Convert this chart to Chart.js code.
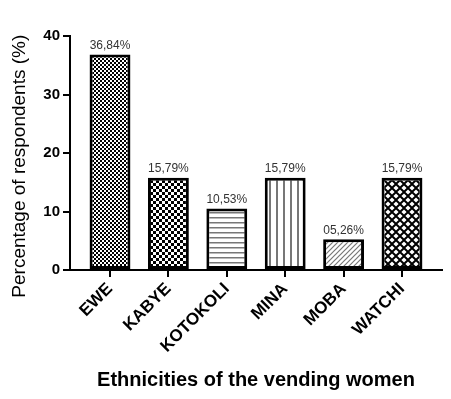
<!DOCTYPE html>
<html>
<head>
<meta charset="utf-8">
<script src="https://cdn.jsdelivr.net/npm/chart.js@4"></script>
<style>
  html, body { margin: 0; padding: 0; background: #fff; }
  #wrap { width: 451px; height: 399px; }
</style>
</head>
<body>
<div id="wrap"><canvas id="barChart" width="451" height="399"></canvas></div>
<script>
const categories = ['EWE', 'KABYE', 'KOTOKOLI', 'MINA', 'MOBA', 'WATCHI'];
const percentages = [36.84, 15.79, 10.53, 15.79, 5.26, 15.79];
const valueLabels = ['36,84%', '15,79%', '10,53%', '15,79%', '05,26%', '15,79%'];
const yTicks = [0, 10, 20, 30, 40];

const FONT = '"Liberation Sans", Arial, sans-serif';

function makePattern(w, h, draw) {
    const c = document.createElement('canvas');
    c.width = w;
    c.height = h;
    const g = c.getContext('2d');
    g.fillStyle = '#fff';
    g.fillRect(0, 0, w, h);
    draw(g, w, h);
    return g.createPattern(c, 'repeat');
}

// one fill per bar, as in the original figure
const fineChecker = makePattern(4, 4, function(g) {
    g.fillStyle = '#000';
    g.fillRect(0, 0, 2, 2);
    g.fillRect(2, 2, 2, 2);
});
const bigChecker = makePattern(6, 6, function(g) {
    g.fillStyle = '#000';
    g.fillRect(0, 0, 3, 3);
    g.fillRect(3, 3, 3, 3);
});
const horizLines = makePattern(5, 5, function(g) {
    g.fillStyle = '#777';
    g.fillRect(0, 2, 5, 1.5);
});
const vertLines = makePattern(7, 7, function(g) {
    g.fillStyle = '#777';
    g.fillRect(3, 0, 2, 7);
});
const diagLines = makePattern(5, 5, function(g) {
    g.strokeStyle = '#777';
    g.lineWidth = 1.2;
    g.beginPath();
    g.moveTo(-1, 6); g.lineTo(6, -1);
    g.moveTo(-1, 1); g.lineTo(1, -1);
    g.moveTo(4, 6); g.lineTo(6, 4);
    g.stroke();
});
const diamonds = makePattern(8, 8, function(g, w, h) {
    g.fillStyle = '#000';
    g.fillRect(0, 0, w, h);
    g.fillStyle = '#fff';
    const pts = [[4, 4], [0, 0], [8, 0], [0, 8], [8, 8]];
    pts.forEach(function(p) {
        g.beginPath();
        g.moveTo(p[0], p[1] - 2.6);
        g.lineTo(p[0] + 2.6, p[1]);
        g.lineTo(p[0], p[1] + 2.6);
        g.lineTo(p[0] - 2.6, p[1]);
        g.closePath();
        g.fill();
    });
});
const fills = [fineChecker, bigChecker, horizLines, vertLines, diagLines, diamonds];

const valueLabelPlugin = {
    id: 'valueLabels',
    afterDatasetsDraw(chart) {
        const ctx = chart.ctx;
        const meta = chart.getDatasetMeta(0);
        ctx.save();
        ctx.font = '12px ' + FONT;
        ctx.fillStyle = '#333';
        ctx.textAlign = 'center';
        ctx.textBaseline = 'bottom';
        meta.data.forEach(function(bar, i) {
            ctx.fillText(valueLabels[i], bar.x, bar.y - 3);
        });
        ctx.restore();
    }
};

// small tick marks under each category on the x axis
const xTickMarks = {
    id: 'xTickMarks',
    afterDraw(chart) {
        const ctx = chart.ctx;
        const xs = chart.scales.x;
        const y0 = chart.chartArea.bottom;
        ctx.save();
        ctx.strokeStyle = '#000';
        ctx.lineWidth = 2;
        ctx.beginPath();
        categories.forEach(function(c, i) {
            const px = Math.round(xs.getPixelForValue(i));
            ctx.moveTo(px, y0);
            ctx.lineTo(px, y0 + 7);
        });
        ctx.stroke();
        ctx.restore();
    }
};

new Chart(document.getElementById('barChart').getContext('2d'), {
    type: 'bar',
    data: {
        datasets: [{
            data: percentages.map(function(v, i) { return { x: i, y: v }; }),
            backgroundColor: fills,
            borderColor: '#000',
            borderWidth: 3,
            borderSkipped: false,
            categoryPercentage: 1,
            barPercentage: 0.7
        }]
    },
    options: {
        responsive: false,
        animation: false,
        layout: { padding: { top: 36, right: 9, left: 0, bottom: 0 } },
        plugins: {
            legend: { display: false },
            tooltip: { enabled: false }
        },
        scales: {
            x: {
                type: 'linear',
                offset: false,
                min: -0.685,
                max: 5.685,
                afterBuildTicks: function(scale) {
                    scale.ticks = categories.map(function(c, i) { return { value: i }; });
                },
                afterFit: function(scale) { scale.height = 129; },
                grid: {
                    offset: false,
                    drawOnChartArea: false,
                    color: '#000',
                    lineWidth: 2,
                    tickLength: 7
                },
                border: { color: '#000', width: 2 },
                ticks: {
                    autoSkip: false,
                    minRotation: 45,
                    maxRotation: 45,
                    padding: 2,
                    color: '#000',
                    font: { family: FONT, size: 17, weight: 'bold' },
                    callback: function(value) { return categories[value]; }
                },
                title: {
                    display: true,
                    text: 'Ethnicities of the vending women',
                    color: '#000',
                    font: { family: FONT, size: 20, weight: 'bold' },
                    padding: { top: 0, bottom: 7 }
                }
            },
            y: {
                min: 0,
                max: 40,
                afterBuildTicks: function(scale) {
                    scale.ticks = yTicks.map(function(v) { return { value: v }; });
                },
                afterFit: function(scale) { scale.width = 70; },
                grid: {
                    drawOnChartArea: false,
                    color: '#000',
                    lineWidth: 2,
                    tickLength: 7
                },
                border: { color: '#000', width: 2 },
                ticks: {
                    padding: 3,
                    color: '#000',
                    font: { family: FONT, size: 15, weight: 'bold' }
                },
                title: {
                    display: true,
                    text: 'Percentage of respondents (%)     ',
                    color: '#000',
                    font: { family: FONT, size: 19 },
                    padding: { top: 8, bottom: 0 }
                }
            }
        }
    },
    plugins: [valueLabelPlugin, xTickMarks]
});
</script>
</body>
</html>
